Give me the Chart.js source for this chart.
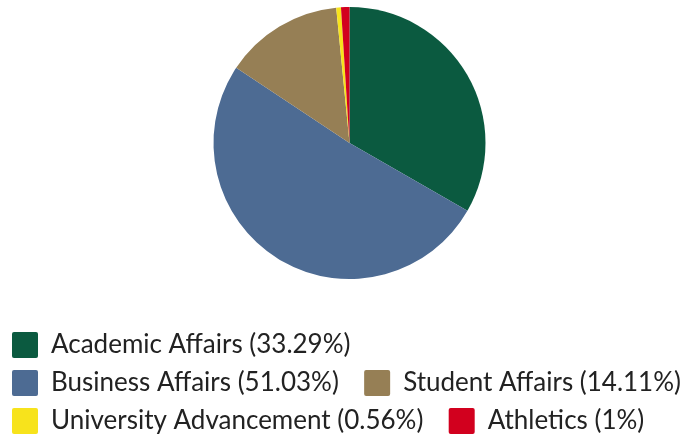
<!DOCTYPE html>
<html>
<head>
<meta charset="utf-8">
<script src="https://cdn.jsdelivr.net/npm/chart.js@4"></script>
<style>
    html, body { margin: 0; padding: 0; background: #fff; }
    #wrap { width: 699px; height: 439px; }
</style>
</head>
<body>
<div id="wrap"><canvas id="grafico"></canvas></div>
<script>
const categorias = ['Academic Affairs', 'Business Affairs', 'Student Affairs', 'University Advancement', 'Athletics'];
const percentuais = [33.29, 51.03, 14.11, 0.56, 1];
const cores = ['#0b5a40', '#4d6b93', '#967f55', '#f7e31c', '#d2001e'];
// espaco extra depois de cada item que nao fecha a linha da legenda
const espacoFinal = ['', '  ', '', '  ', ''];

const ctx = document.getElementById('grafico').getContext('2d');
new Chart(ctx, {
    type: 'pie',
    data: {
        labels: categorias.map((c, i) => c + ' (' + percentuais[i] + '%)' + espacoFinal[i]),
        datasets: [{
            data: percentuais,
            backgroundColor: cores,
            borderWidth: 0
        }]
    },
    options: {
        responsive: true,
        maintainAspectRatio: false,
        animation: false,
        layout: { padding: { top: 7, bottom: -5 } },
        plugins: {
            tooltip: { enabled: false },
            legend: {
                position: 'bottom',
                align: 'start',
                title: {
                    display: true,
                    text: '',
                    font: { size: 1, lineHeight: 1 },
                    padding: { top: 40, bottom: 0 }
                },
                labels: {
                    font: { family: 'Lato', size: 26 },
                    color: '#222',
                    boxWidth: 26,
                    boxHeight: 26,
                    padding: 12,
                    useBorderRadius: true,
                    borderRadius: 2
                }
            }
        }
    }
});
</script>
</body>
</html>
